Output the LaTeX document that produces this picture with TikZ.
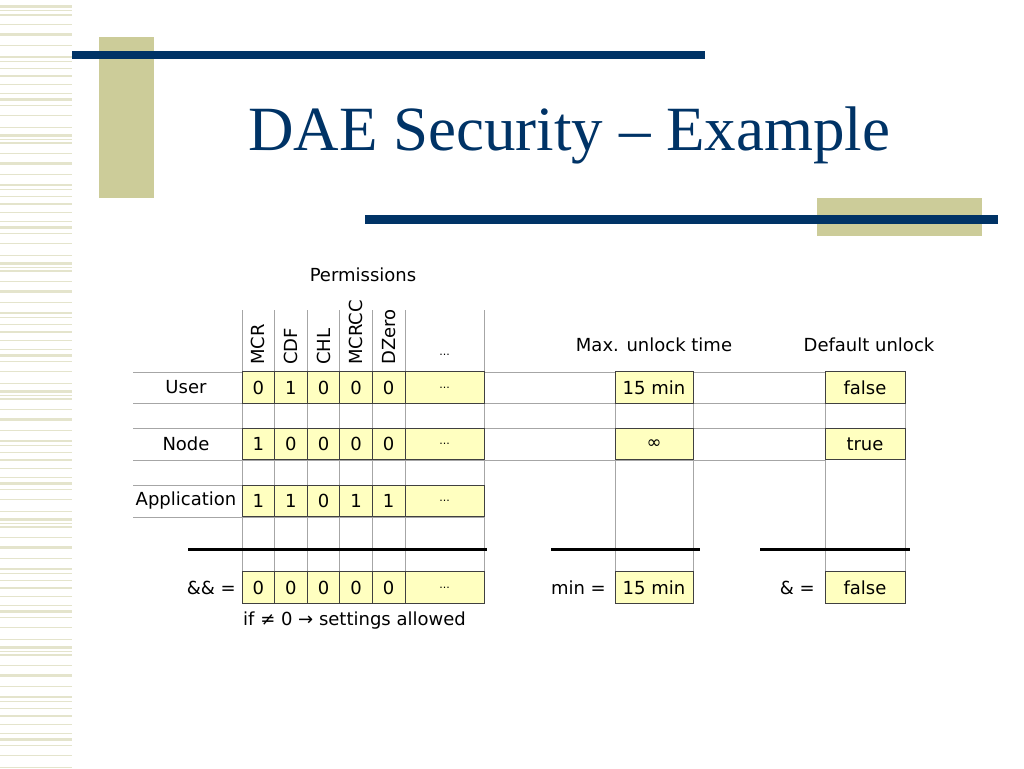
\documentclass[tikz,border=0pt]{standalone}
\usepackage{fontspec}
\setmainfont{DejaVu Sans}
\newfontfamily\titlefont{Liberation Serif}
\usetikzlibrary{positioning}
\definecolor{navy}{RGB}{0,51,102}
\definecolor{tan}{RGB}{204,204,153}
\definecolor{stripe}{RGB}{228,228,204}
\definecolor{cellfill}{RGB}{255,255,192}
\tikzset{valbox/.style={draw={black!75}, fill=cellfill, minimum height=31.5pt, inner sep=0pt, line width=0.9pt, font=\fontsize{18}{18}\selectfont}}
\tikzset{lbl/.style={inner sep=0pt, font=\fontsize{18}{18}\selectfont}}
\tikzset{gridline/.style={draw={black!35}, line width=0.8pt}}
\tikzset{sumline/.style={draw, line width=3pt}}

\begin{document}
\begin{tikzpicture}[x=1pt,y=-1pt]
    \useasboundingbox (0,0) rectangle (1024,768);
    % side stripes
    \foreach \k in {0,...,5}
        \foreach \s/\w in {7/3,11/1,15/1.5,25/1,35/3,46/1,57/2,61/1,68/1,76/2,84/1,93/1,99/3,105/1,115/1,127/1}
            \fill[stripe] (0,{128*\k+\s-\w/2}) rectangle (72,{128*\k+\s+\w/2});

    % title bars
    \fill[tan] (99,37) rectangle (154,198);
    \fill[navy] (72,51) rectangle (705,59);
    \fill[tan] (817,198) rectangle (982,236);
    \fill[navy] (365,215) rectangle (998,224);
    \node[anchor=base west, inner sep=0pt, text=navy, font=\titlefont\fontsize{63}{63}\selectfont] (title) at (248,150) {DAE Security – Example};

    % grid
    \foreach \y in {372,403,428,460} \draw[gridline] (133,\y) -- (825,\y);
    \foreach \y in {485,517} \draw[gridline] (133,\y) -- (484,\y);
    \foreach \x in {242,274.6,307.2,339.8,372.4,405,484} \draw[gridline] (\x,310) -- (\x,571);
    \foreach \x in {615,693,825,905} \draw[gridline] (\x,372) -- (\x,571);

    % headers
    \node[lbl] (perm) at (363,275) {Permissions};
    \foreach \h [count=\c] in {MCR,CDF,CHL,MCRCC,DZero}
        \node[lbl, rotate=90, anchor=west] (h\c) at ({242+32.6*(\c-0.5)},365) {\h};
    \node[lbl, font=\fontsize{11}{11}\selectfont] (h6) at (444.5,355) {...};
    \node[lbl] (maxt) at (654,345) {Max. unlock time};
    \node[lbl] (defu) at (869,345) {Default unlock};

    % rows
    \foreach \r/\y/\vals in {usr/387.5/{0,1,0,0,0}, nod/444/{1,0,0,0,0}, app/501/{1,1,0,1,1}, res/587.5/{0,0,0,0,0}} {
        \foreach \v [count=\c] in \vals
            \node[valbox, minimum width=32.6pt] (\r\c) at ({242+32.6*(\c-0.5)},\y) {\v};
        \node[valbox, minimum width=79pt, font=\fontsize{11}{11}\selectfont] (\r6) at (444.5,\y) {...};
    }
    \node[lbl] (lusr) at (186,387.5) {User};
    \node[lbl] (lnod) at (186,444) {Node};
    \node[lbl] (lapp) at (186,501) {Application};

    \node[valbox, minimum width=78pt] (usrtime) at (654,387.5) {15 min};
    \node[valbox, minimum width=78pt] (nodtime) at (654,444) {∞};
    \node[valbox, minimum width=78pt] (restime) at (654,587.5) {15 min};
    \node[valbox, minimum width=80pt] (usrdef) at (865,387.5) {false};
    \node[valbox, minimum width=80pt] (noddef) at (865,444) {true};
    \node[valbox, minimum width=80pt] (resdef) at (865,587.5) {false};

    % result
    \draw[sumline] (188,549) -- (487,549);
    \draw[sumline] (551,549) -- (700,549);
    \draw[sumline] (760,549) -- (910,549);
    \node[lbl, anchor=east] (andall) at (236,587.5) {\&\& =};
    \node[lbl, anchor=east] (minall) at (606,587.5) {min =};
    \node[lbl, anchor=east] (andone) at (815,587.5) {\& =};
    \node[lbl, anchor=west] (note) at (243,621) {if ≠ 0 → settings allowed};
\end{tikzpicture}
\end{document}
